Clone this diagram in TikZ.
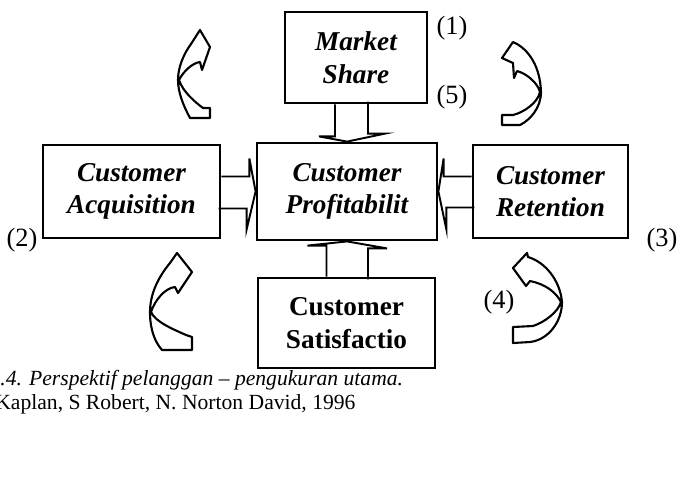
\documentclass[tikz,border=0pt]{standalone}
\usepackage{fontspec}
\setmainfont{Liberation Serif}
\usetikzlibrary{calc}
\begin{document}
\begin{tikzpicture}[x=0.02cm,y=-0.02cm,
    box/.style={draw,line width=1.6pt,align=center,inner sep=0pt,font=\fontsize{15.5}{18.5}\selectfont\bfseries\itshape},
    barrow/.style={draw,line width=1.1pt,line join=miter},
    curl/.style={draw,line width=1.2pt,line join=round},
    num/.style={inner sep=0pt,font=\fontsize{15}{17}\selectfont}]
\useasboundingbox[fill=white] (0,0) rectangle (680,485);

\node[box,minimum width=2.84cm,minimum height=1.82cm] (market) at (356,57.5) {Market\\Share};
\node[box,minimum width=3.6cm,minimum height=1.94cm] (profit) at (347,191.5) {Customer\\Profitabilit};
\node[box,minimum width=3.54cm,minimum height=1.86cm] (acq) at (131.5,191.5) {Customer\\Acquisition};
\node[box,minimum width=3.1cm,minimum height=1.86cm] (ret) at (550.5,191.5) {Customer\\Retention};
\node[box,minimum width=3.54cm,minimum height=1.8cm,font=\fontsize{15.5}{18.5}\selectfont\bfseries] (sat) at (346.5,323) {Customer\\Satisfactio};

\node[num] (n1) at (452,28) {(1)};
\node[num] (n5) at (452,97) {(5)};
\node[num] (n2) at (22,240) {(2)};
\node[num] (n3) at (662,240) {(3)};
\node[num] (n4) at (499,302) {(4)};

% block arrows into the profitability box
\draw[barrow] ($(market.south)+(-21,0)$) -- ++(0,32) -- ++(-16,0) -- (profit.north) -- ++(38,-8) -- ++(-17,0) -- ++(0,-32);
\draw[barrow] ($(acq.east)+(0,-15)$) -- ++(28,0) -- ++(0,-18) -- (profit.west) -- ++(-9,38) -- ++(0,-21) -- ++(-28,0);
\draw[barrow] ($(ret.west)+(0,-15)$) -- ++(-28,0) -- ++(0,-18) -- (profit.east) -- ++(8,38) -- ++(0,-22) -- ++(28,0);
\draw[barrow] ($(sat.north)+(-20,0)$) -- ++(0,-31) -- ++(-19,0) -- (profit.south) -- ++(40,7) -- ++(-19,0) -- ++(0,31);

% curved arrows
\draw[curl] (210,118) -- (210,108) -- (203,108) .. controls (195,102) and (183,92) .. (179,80) .. controls (183,72) and (192,63) .. (200,62) -- (202,70) -- (210,47) -- (200,30) -- (191,44) .. controls (183,55) and (178,68) .. (178,80) .. controls (178,92) and (183,105) .. (190,118) -- cycle;
\draw[curl] (502,125) -- (502,115) -- (513,115) .. controls (525,112) and (538,102) .. (540,92) .. controls (538,84) and (528,74) .. (517,71) -- (514,78) -- (513,63) -- (502,58) -- (513,42) .. controls (525,47) and (540,62) .. (541,92) .. controls (541,108) and (530,120) .. (520,125) -- cycle;
\draw[curl] (192,350) -- (192,337) -- (186,335) .. controls (175,330) and (155,322) .. (151,312) .. controls (155,300) and (165,288) .. (175,287) -- (178,293) -- (192,272) -- (177,253) -- (170,263) .. controls (160,275) and (150,292) .. (150,312) .. controls (150,330) and (155,342) .. (162,350) -- cycle;
\draw[curl] (513,343) -- (513,327) -- (533,326) .. controls (545,322) and (558,312) .. (561,302) .. controls (556,292) and (545,284) .. (530,281) -- (526,286) -- (513,268) -- (527,253) -- (528,257) .. controls (545,262) and (560,280) .. (562,302) .. controls (562,322) and (548,340) .. (530,342) -- cycle;

\node[anchor=west,inner sep=0pt,font=\fontsize{12.3}{14}\selectfont\itshape] (cap) at (0,380) {.4. Perspektif pelanggan – pengukuran utama.};
\node[anchor=west,inner sep=0pt,font=\fontsize{12.3}{14}\selectfont] (src) at (-5,404) {Kaplan, S Robert, N. Norton David, 1996};
\end{tikzpicture}
\end{document}
